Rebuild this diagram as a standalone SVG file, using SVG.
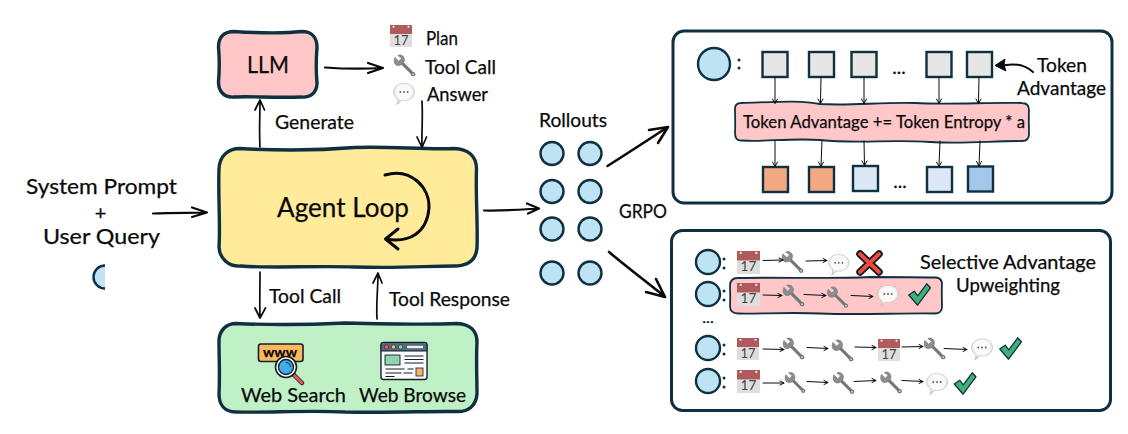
<svg xmlns="http://www.w3.org/2000/svg" width="1128" height="434" viewBox="0 0 1128 434">
<style>
text{font-family:"Lato","Noto Sans",sans-serif;fill:#0a0a0a;font-size:19px;stroke:#0a0a0a;stroke-width:.25}
.box{stroke:#0e3040;stroke-width:3.4;stroke-linejoin:round}
.panel{fill:#fff;stroke:#0e3040;stroke-width:3}
.c{fill:#bee3f4;stroke:#0e3040;stroke-width:2.4}
.sq{stroke:#0e3040;stroke-width:2.4}
.a{fill:none;stroke:#0a0a0a;stroke-width:1.700;stroke-linecap:round;stroke-linejoin:round}
.m{fill:none;stroke:#0a0a0a;stroke-width:2.200;stroke-linecap:round;stroke-linejoin:round}
.t{fill:none;stroke:#0a0a0a;stroke-width:2.6;stroke-linecap:round;stroke-linejoin:round}
.th{fill:none;stroke:#0a0a0a;stroke-width:1;stroke-linecap:round;stroke-linejoin:round}
.dot{fill:#0e3040}
</style>
<defs>
<radialGradient id="bg" cx="50%" cy="40%" r="60%"><stop offset="0.6" stop-color="#fafafa"/><stop offset="1" stop-color="#c9c9c9"/></radialGradient>
<symbol id="cal" viewBox="0 0 22 22" overflow="visible">
<rect width="22" height="22" fill="#dedede"/>
<rect width="22" height="9" fill="#b05a5e"/>
<circle cx="3.500" cy="1.800" r="1" fill="#fff"/><circle cx="18.500" cy="1.800" r="1" fill="#fff"/>
<text x="11" y="19.500" text-anchor="middle" style="font-size:13px;fill:#444;stroke:none">17</text>
</symbol>
<symbol id="wr" viewBox="0 0 24 23" overflow="visible">
<path d="M9 8L21 20" stroke="#74777c" stroke-width="3.200" stroke-linecap="round" fill="none"/>
<circle cx="21" cy="20" r="2.300" fill="#74777c"/>
<path d="M2 2.500L6 6.500L9 3.500L5 0.500C8 -1 12 1 12 5C12 6 11.700 7 11.200 8L9 10C8 10.500 7 11 5.500 11C2 11 0 7 2 2.500Z" fill="#8a8d91" stroke="#6b6e72" stroke-width="0.600"/>
<circle cx="21" cy="20" r="0.900" fill="#ddd"/>
</symbol>
<symbol id="bb" viewBox="0 0 22 22" overflow="visible">
<path d="M11 0.500C17 0.500 21.500 4 21.500 9C21.500 14 17 17.500 11 17.500C10 17.500 9.500 17.500 8.500 17.300C7.500 19 5.500 21 3.500 21.500C4.500 20 5 17.800 4.700 15.800C2 14.300 0.500 12 0.500 9C0.500 4 5 0.500 11 0.500Z" fill="url(#bg)" stroke="#bdbdbd" stroke-width="0.600"/>
<circle cx="7.300" cy="9" r="0.900" fill="#555"/><circle cx="11" cy="9" r="0.900" fill="#555"/><circle cx="14.700" cy="9" r="0.900" fill="#555"/>
</symbol>
<symbol id="ck" viewBox="0 0 24 24" overflow="visible">
<path d="M0.800 12.500L6.500 8.500L10.200 13.500L19.500 0.800L23.400 5L10 23.200Z" fill="#3cb277" stroke="#0e3040" stroke-width="1.300" stroke-linejoin="round"/>
</symbol>
<symbol id="xx" viewBox="0 0 25 24" overflow="visible">
<path d="M3 3L22 21M22 3L3 21" stroke="#14181c" stroke-width="7.500" stroke-linecap="round" fill="none"/>
<path d="M3 3L22 21M22 3L3 21" stroke="#ee4b3e" stroke-width="3.800" stroke-linecap="round" fill="none"/>
</symbol>
<clipPath id="half"><rect x="85" y="260" width="20" height="35"/></clipPath>
</defs>

<g id="input-text">
<text x="26" y="194" textLength="151" lengthAdjust="spacingAndGlyphs" style="font-size:22px">System Prompt</text>
<text x="100.500" y="219.500" text-anchor="middle" style="font-size:20px">+</text>
<text x="43" y="244" textLength="117" lengthAdjust="spacingAndGlyphs" style="font-size:22px">User Query</text>
<circle class="c" cx="105" cy="277" r="11.500" clip-path="url(#half)"/>
</g>

<g id="llm">
<path class="box" fill="#ffc7c7" d="M234 31.500C258 33 288 33 302 31.500C312 31.500 317 38 317 47C316 60 316 72 317 83C317 92 311 98 301 97C274 98 248 96 234 97C224 98 218.500 91 218.500 82C219.500 70 219.500 58 218.500 47C218.500 37 224 31.500 234 31.500Z"/>
<text x="247" y="73" textLength="42" lengthAdjust="spacingAndGlyphs" style="font-size:24px">LLM</text>
</g>

<g id="outputs">
<use href="#cal" x="390" y="25" width="22" height="22"/>
<text x="426" y="45" textLength="32" lengthAdjust="spacingAndGlyphs">Plan</text>
<use href="#wr" x="393" y="55" width="23" height="22"/>
<text x="425" y="74" textLength="71" lengthAdjust="spacingAndGlyphs">Tool Call</text>
<use href="#bb" x="393" y="83" width="22" height="22"/>
<text x="427" y="101" textLength="61" lengthAdjust="spacingAndGlyphs">Answer</text>
</g>

<g id="agent-loop">
<path class="box" fill="#ffeb9a" d="M240 148.500C284 151 324 150 355 147.500C390 146 426 150 454 148.500C468 149 476.500 156 476.500 169C475.500 195 478 226 477 248C476 260 468 266 454 266C426 266 400 268.500 355 267C314 265.500 274 268.500 241 266C228 267 219.500 258 219 247C220.500 225 218 195 219 169C219.500 156 228 148.500 240 148.500Z"/>
<text x="277" y="217" textLength="132" lengthAdjust="spacingAndGlyphs" style="font-size:27px">Agent Loop</text>
<path fill="none" stroke="#0a0a0a" stroke-width="3" stroke-linecap="round" stroke-linejoin="round" d="M385 175C411 167 430 188 429 208C427 234 408 243 386 239M398 229L385.500 239L398 249"/>
</g>

<g id="web-tools">
<path class="box" fill="#c0f0c5" d="M236 323.500C268 325 304 325 345 323C385 324 426 325 457 323.500C470 324 477 331 477 342C476 360 477 378 477 394C476 406 468 412 457 411.500C426 411 395 413 345 412C304 410 268 413 236 412C225 412 219 405 219 394C220 375 219 358 219 341C219 331 226 323.500 236 323.500Z"/>
<g id="web-search-icon">
<rect x="258.500" y="344" width="44.500" height="17.500" rx="2.500" fill="#fdb85e" stroke="#14202c" stroke-width="1.600"/>
<text x="280" y="356.500" text-anchor="middle" textLength="34" lengthAdjust="spacingAndGlyphs" style="font-size:13px;font-weight:700">www</text>
<path d="M294 375L302 383" stroke="#14202c" stroke-width="4.500" stroke-linecap="round"/>
<path d="M294 375L302 383" stroke="#ee5a5a" stroke-width="2.600" stroke-linecap="round"/>
<circle cx="286" cy="367" r="10.500" fill="#fff" stroke="#14202c" stroke-width="1.600"/>
<circle cx="286" cy="367" r="7.500" fill="#3eaee4" stroke="#14202c" stroke-width="1.400"/>
<path d="M286 362.500A4.500 4.500 0 0 1 290.500 367" fill="none" stroke="#14202c" stroke-width="1"/>
</g>
<g id="web-browse-icon">
<rect x="381" y="342.500" width="46" height="37" rx="2.500" fill="#fbfbfb" stroke="#14202c" stroke-width="1.400"/>
<path d="M381 351V345C381 343.500 382 342.500 383.500 342.500H424.500C426 342.500 427 343.500 427 345V351Z" fill="#55697c" stroke="#14202c" stroke-width="1"/>
<circle cx="386.500" cy="347" r="2.200" fill="#ee5a5a" stroke="#14202c" stroke-width="0.600"/>
<circle cx="393.500" cy="347" r="2.200" fill="#f5b95e" stroke="#14202c" stroke-width="0.600"/>
<circle cx="400.500" cy="347" r="2.200" fill="#8dd6a8" stroke="#14202c" stroke-width="0.600"/>
<rect x="407" y="345.800" width="16" height="2.400" fill="#f1f1f1"/>
<rect x="385" y="355" width="15" height="10" fill="#8fd4ae" stroke="#14202c" stroke-width="0.900"/>
<path d="M404.500 356H423.500M404.500 359.500H423.500M404.500 363H423.500M385.500 369H404.500M407.500 369H413.500M385.500 373H401.500M403.500 373H412.500M385.500 376.500H394.500" stroke="#14202c" stroke-width="1" fill="none"/>
<rect x="416" y="368" width="7" height="8" fill="#f5b46a" stroke="#14202c" stroke-width="0.800"/>
</g>
<text x="241" y="402" textLength="105" lengthAdjust="spacingAndGlyphs" style="font-size:20px">Web Search</text>
<text x="359" y="402" textLength="107" lengthAdjust="spacingAndGlyphs" style="font-size:20px">Web Browse</text>
</g>

<g id="rollouts">
<text x="539" y="127" textLength="68" lengthAdjust="spacingAndGlyphs">Rollouts</text>
<circle class="c" cx="552" cy="153.500" r="11.500"/><circle class="c" cx="590" cy="153.500" r="11.500"/>
<circle class="c" cx="552" cy="191.500" r="11.500"/><circle class="c" cx="590" cy="191.500" r="11.500"/>
<circle class="c" cx="552" cy="229" r="11.500"/><circle class="c" cx="590" cy="229" r="11.500"/>
<circle class="c" cx="552" cy="273" r="11.500"/><circle class="c" cx="590" cy="273" r="11.500"/>
</g>
<text id="grpo" x="619" y="218" textLength="48" lengthAdjust="spacingAndGlyphs">GRPO</text>

<g id="token-panel">
<rect class="panel" x="673" y="31" width="439" height="172" rx="11"/>
<circle class="c" cx="714" cy="64" r="16"/>
<circle class="dot" cx="739" cy="60" r="1.500"/><circle class="dot" cx="739" cy="68" r="1.500"/>
<g fill="#e6e6e6">
<rect class="sq" x="762.500" y="52" width="25" height="25"/><rect class="sq" x="809" y="52" width="25" height="25"/><rect class="sq" x="851.500" y="52" width="25" height="25"/><rect class="sq" x="926.500" y="52" width="25" height="25"/><rect class="sq" x="967" y="52" width="25" height="25"/>
</g>
<text x="899" y="74" text-anchor="middle">...</text>
<path fill="#ffc7c7" stroke="#0e3040" stroke-width="1.800" d="M741 103C775 102 800 100 820 104C850 106 880 102 915 103C950 105 990 102 1022 103C1027 103 1029 106 1029 110C1028.500 118 1029 126 1029 134C1029 139 1026 141 1022 141C990 141 965 144 930 142C890 139 860 144 820 140C790 138 765 142 742 140.500C737 141 735 138 735 133C735.500 125 735 116 735 109C735 105 737 103 741 103Z"/>
<text x="743" y="128" textLength="282" lengthAdjust="spacingAndGlyphs" style="font-size:18px">Token Advantage += Token Entropy * a</text>
<rect class="sq" fill="#f2a981" x="763" y="167" width="25" height="25"/>
<rect class="sq" fill="#f2a981" x="809" y="167" width="25" height="25"/>
<rect class="sq" fill="#dce8f6" x="853" y="166" width="25" height="25"/>
<rect class="sq" fill="#dce8f6" x="927" y="167" width="25" height="25"/>
<rect class="sq" fill="#a4c8ea" x="968" y="166.500" width="25" height="25"/>
<text x="900" y="188" text-anchor="middle">...</text>
<text x="1037" y="72" textLength="50" lengthAdjust="spacingAndGlyphs">Token</text>
<text x="1017" y="95" textLength="89" lengthAdjust="spacingAndGlyphs">Advantage</text>
</g>

<g id="selective-panel">
<rect class="panel" x="671.500" y="230.500" width="439" height="180" rx="11"/>
<path fill="#ffc7c7" stroke="#0e3040" stroke-width="1.800" d="M737 278C780 277 830 279 870 277C895 277 915 277 936 277.500C940 278 942 280 942 284C941.500 292 942 299 942 307C942 311 939 313.500 935 313.500C900 313 860 315 820 313.500C790 312 760 314 738 313.500C733 313.500 730 311 730 306C730.500 298 730 292 730 285C730 281 733 278 737 278Z"/>
<circle class="c" cx="708" cy="262" r="12"/><circle class="c" cx="708" cy="294" r="12"/><circle class="c" cx="708" cy="348" r="12"/><circle class="c" cx="708" cy="381" r="12"/>
<g class="dot">
<circle cx="724" cy="259" r="1.500"/><circle cx="724" cy="268" r="1.500"/>
<circle cx="724" cy="291" r="1.500"/><circle cx="724" cy="300" r="1.500"/>
<circle cx="724" cy="345" r="1.500"/><circle cx="724" cy="354" r="1.500"/>
<circle cx="724" cy="378" r="1.500"/><circle cx="724" cy="387" r="1.500"/>
</g>
<text x="708" y="323" text-anchor="middle" style="font-size:16px">...</text>
<use href="#cal" x="737" y="251" width="23" height="23"/><use href="#wr" x="781" y="251" width="23" height="23"/><use href="#bb" x="828" y="254" width="21.500" height="21.500"/><use href="#xx" x="857" y="251" width="25" height="24"/>
<use href="#cal" x="737" y="283" width="23" height="23"/><use href="#wr" x="782" y="285" width="23" height="22"/><use href="#wr" x="826" y="287" width="23" height="21.500"/><use href="#bb" x="877" y="285" width="22" height="22"/><use href="#ck" x="908" y="283" width="23" height="23"/>
<use href="#cal" x="737" y="338" width="22" height="22"/><use href="#wr" x="782" y="338" width="23" height="22"/><use href="#wr" x="831" y="340" width="23" height="22"/><use href="#cal" x="878" y="339" width="22" height="22"/><use href="#wr" x="923" y="338" width="23" height="22"/><use href="#bb" x="971" y="338.500" width="22" height="22"/><use href="#ck" x="999" y="337" width="23" height="23"/>
<use href="#cal" x="737" y="370" width="23" height="23"/><use href="#wr" x="784" y="372" width="22" height="22"/><use href="#wr" x="832" y="372" width="23" height="23"/><use href="#wr" x="879" y="372" width="24" height="22"/><use href="#bb" x="926" y="373" width="22" height="22"/><use href="#ck" x="953" y="372" width="24" height="23"/>
<text x="920" y="269" textLength="176" lengthAdjust="spacingAndGlyphs">Selective Advantage</text>
<text x="956" y="292" textLength="104" lengthAdjust="spacingAndGlyphs">Upweighting</text>
</g>

<g id="connectors">
<path class="m" d="M325 67.500C345 69 365 69 382 68M368 63L383 68L368 73"/>
<path class="a" d="M260 147C259 131 260 116 260 101M255 110L260 100L264.500 110"/>
<path class="a" d="M422 101C423 118 421.500 133 422 147M417 137L422 147.500L426.500 137"/>
<path class="m" d="M153 213.500C172 212.500 190 213 206 212.500M192 207.500L207 212.500L192 217"/>
<path class="m" d="M484 210.500C505 211 522 209.500 538 208.500M527 203.500L539 208.500L528 213.500"/>
<path class="a" d="M260 272C260 288 259.500 303 260 317M255 308L260 318L265.500 308"/>
<path class="a" d="M377 319C376 304 378 288 378 274M373 283L378 273L382 283"/>
<path class="t" d="M607.500 166C628 153 648 140 667 127.500M649 130L668 127L658 143"/>
<path class="t" d="M609 252C628 268 648 283 664.500 296.500M656 279L665 297L646 292"/>
<path fill="none" stroke="#0a0a0a" stroke-width="2" stroke-linecap="round" d="M1033 72C1024 64 1012 63 1000 66"/>
<path fill="#0a0a0a" stroke="#0a0a0a" stroke-linejoin="round" d="M995 65.500L1005 59L1004 65L1006 71Z"/>
<g class="th">
<path d="M775 77L775 103M772.500 99L775 103.500L777.500 99"/><path d="M821 77L820.500 103M818 99L820.500 103.500L823 99"/><path d="M864 77L864 103M861.500 99L864 103.500L866.500 99"/><path d="M939 77L939 103M936.500 99L939 103.500L941.500 99"/><path d="M979 77L978.500 103M976 99L978.500 103.500L981 99"/>
<path d="M775 141L775 166M772.500 162L775 166.500L777.500 162"/><path d="M822 141L821 166M818.500 162L821 166.500L823.500 162"/><path d="M864 141L864.500 165M862 161L864.500 165.500L867 161"/><path d="M940 141L939 166M936.500 162L939 166.500L941.500 162"/><path d="M980 141L979 165.500M976.500 161.500L979 166L981.500 161.500"/>
<path d="M763 260.500L783 260M779 258L783 260L779 262"/><path d="M806 261L827 260.500M823 258.500L827 260.500L823 262.500"/>
<path d="M763 295L782 295.500M778 293.500L782 295.500L778 297.500"/><path d="M804 294.500L826 295.500M822 293.500L826 295.500L822 297.500"/><path d="M851 295.500L873 296.500M869 294.500L873 296.500L869 298.500"/>
<path d="M763 349L784 349.500M780 347.500L784 349.500L780 351.500"/><path d="M807 347.500L828 348.500M824 346.500L828 348.500L824 350.500"/><path d="M855 347L876 347.500M872 345.500L876 347.500L872 349.500"/><path d="M902 347L923 346.500M919 344.500L923 346.500L919 348.500"/><path d="M944 348.500L967 349.500M963 347.500L967 349.500L963 351.500"/>
<path d="M763 383L784 383M780 381L784 383L780 385"/><path d="M807 381.500L828 382.500M824 380.500L828 382.500L824 384.500"/><path d="M854 381.500L876 380.500M872 378.500L876 380.500L872 382.500"/><path d="M902 380.500L923 381.500M919 379.500L923 381.500L919 383.500"/>
</g>
</g>

<g id="connector-labels">
<text x="275" y="129" textLength="79" lengthAdjust="spacingAndGlyphs">Generate</text>
<text x="269" y="303" textLength="72" lengthAdjust="spacingAndGlyphs">Tool Call</text>
<text x="389" y="306" textLength="121" lengthAdjust="spacingAndGlyphs">Tool Response</text>
</g>
</svg>
